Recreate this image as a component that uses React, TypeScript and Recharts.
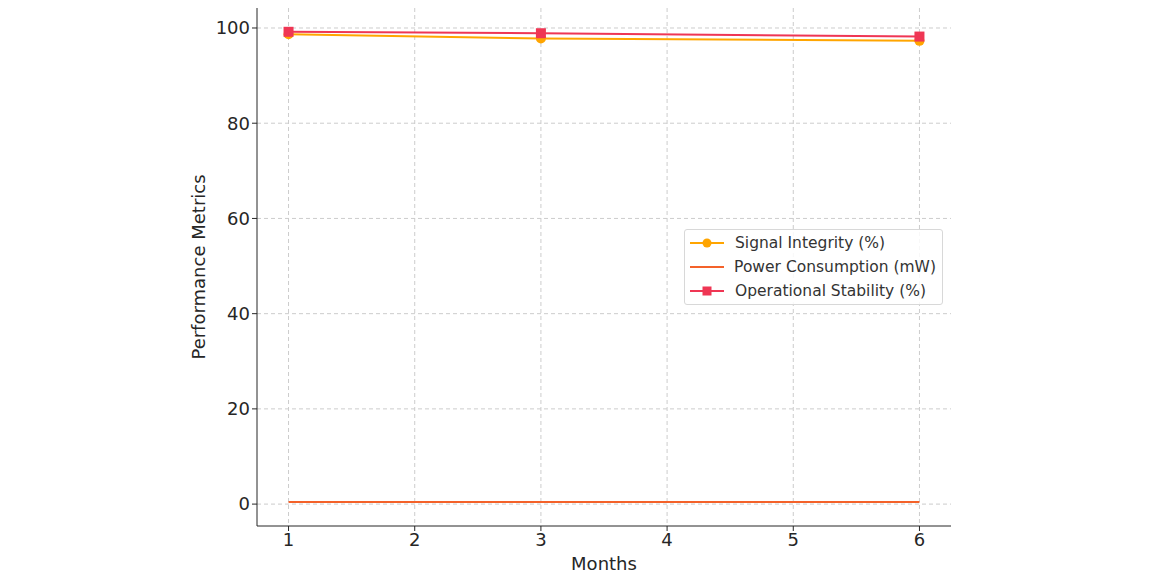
import { LineChart, Line, XAxis, YAxis, CartesianGrid } from 'recharts';

const months = [1, 3, 6];
const signalIntegrity = [98.7, 97.8, 97.3];
const powerConsumption = [0.45, 0.45, 0.45];
const operationalStability = [99.2, 98.9, 98.2];

const xTicks = [1, 2, 3, 4, 5, 6];
const yTicks = [0, 20, 40, 60, 80, 100];

const data = months.map((m, i) => ({
    month: m,
    signal: signalIntegrity[i],
    power: powerConsumption[i],
    stability: operationalStability[i],
}));

const ORANGE = '#ffa500';
const POWER = '#f4622a';
const RED = '#ef3654';
const FONT = '"DejaVu Sans", sans-serif';
const TEXT = '#262626';

const SquareDot = (props: any) => {
    const { cx, cy } = props;
    if (cx == null || cy == null) return null;
    return <rect x={cx - 5} y={cy - 5} width={10} height={10} fill={RED} />;
};

const legendItems = [
    { label: 'Signal Integrity (%)', color: ORANGE, marker: 'circle' },
    { label: 'Power Consumption (mW)', color: POWER, marker: 'none' },
    { label: 'Operational Stability (%)', color: RED, marker: 'square' },
];

const ChartLegend = () => (
    <div
        style={{
            position: 'absolute',
            left: 684,
            top: 229,
            width: 259,
            boxSizing: 'border-box',
            border: '1px solid #d8d8d8',
            borderRadius: 3,
            background: 'rgba(255,255,255,0.85)',
            padding: '1px 6px 1px 4px',
            fontFamily: FONT,
            fontSize: 15.5,
            color: '#333',
        }}
    >
        {legendItems.map((it) => (
            <div key={it.label} style={{ display: 'flex', alignItems: 'center', height: 24 }}>
                <svg width={36} height={12} style={{ marginRight: 10 }}>
                    <line x1={1} y1={6} x2={35} y2={6} stroke={it.color} strokeWidth={2} />
                    {it.marker === 'circle' && <circle cx={18} cy={6} r={4.5} fill={it.color} />}
                    {it.marker === 'square' && <rect x={13.5} y={1.5} width={9} height={9} fill={it.color} />}
                </svg>
                <span style={{ whiteSpace: 'nowrap' }}>{it.label}</span>
            </div>
        ))}
    </div>
);

export default function App() {
    return (
        <div style={{ position: 'absolute', left: 0, top: 0, width: 1164, height: 573, background: '#fff' }}>
            <LineChart
                width={1164}
                height={573}
                data={data}
                margin={{ top: 8, right: 213, bottom: 0, left: 182 }}
            >
                <CartesianGrid stroke="#cccccc" strokeDasharray="4 3" syncWithTicks />
                <XAxis
                    dataKey="month"
                    type="number"
                    domain={[0.75, 6.25]}
                    ticks={xTicks}
                    height={47}
                    tick={{ fontSize: 18, fill: TEXT, fontFamily: FONT }}
                    tickLine={{ stroke: TEXT }}
                    axisLine={{ stroke: TEXT }}
                    tickSize={5}
                    label={{ value: 'Months', position: 'insideBottom', offset: 3, fontSize: 18, fill: TEXT, fontFamily: FONT }}
                />
                <YAxis
                    type="number"
                    domain={[-4.6, 104.2]}
                    ticks={yTicks}
                    width={75}
                    tick={{ fontSize: 18, fill: TEXT, fontFamily: FONT }}
                    tickLine={{ stroke: TEXT }}
                    axisLine={{ stroke: TEXT }}
                    tickSize={5}
                    label={{ value: 'Performance Metrics', angle: -90, position: 'insideLeft', offset: 17, fontSize: 18, fill: TEXT, fontFamily: FONT, style: { textAnchor: 'middle' } }}
                />
                <Line
                    dataKey="signal"
                    name="Signal Integrity (%)"
                    stroke={ORANGE}
                    strokeWidth={2}
                    dot={{ r: 5, fill: ORANGE, stroke: ORANGE, strokeWidth: 0 }}
                    isAnimationActive={false}
                />
                <Line
                    dataKey="power"
                    name="Power Consumption (mW)"
                    stroke={POWER}
                    strokeWidth={2}
                    dot={false}
                    isAnimationActive={false}
                />
                <Line
                    dataKey="stability"
                    name="Operational Stability (%)"
                    stroke={RED}
                    strokeWidth={2}
                    dot={<SquareDot />}
                    isAnimationActive={false}
                />
            </LineChart>
            <ChartLegend />
        </div>
    );
}
